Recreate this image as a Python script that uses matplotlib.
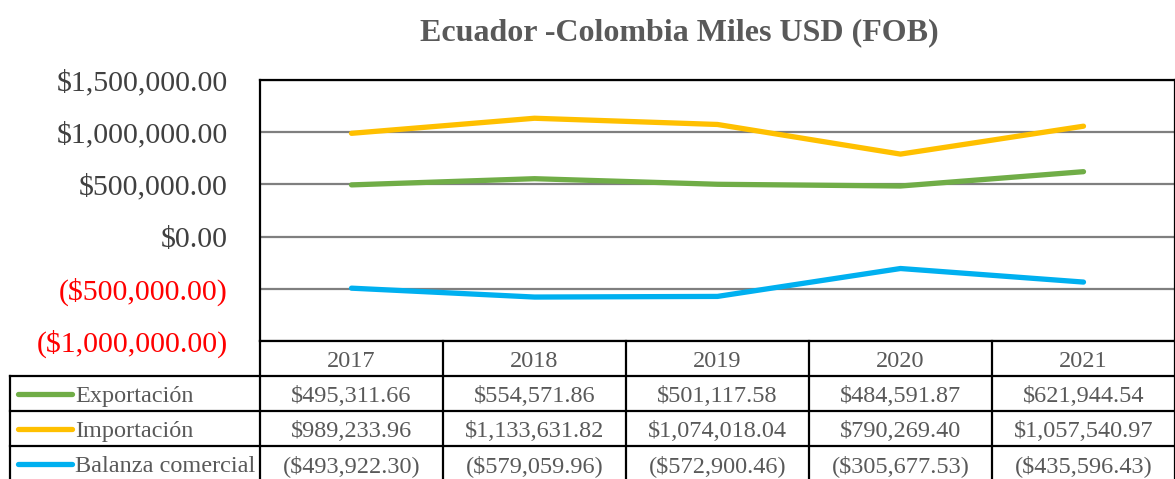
import numpy as np
import matplotlib.pyplot as plt
from matplotlib.ticker import FuncFormatter

years = ['2017', '2018', '2019', '2020', '2021']
exportacion = [495311.66, 554571.86, 501117.58, 484591.87, 621944.54]
importacion = [989233.96, 1133631.82, 1074018.04, 790269.40, 1057540.97]
balanza = [-493922.30, -579059.96, -572900.46, -305677.53, -435596.43]
series_names = ['Exportación', 'Importación', 'Balanza comercial']
colors = ['#70AD47', '#FFC000', '#00B0F0']


def money(v):
    if v < 0:
        return '(${:,.2f})'.format(-v)
    return '${:,.2f}'.format(v)


plt.rcParams['font.family'] = 'Liberation Serif'

W, H = 1175, 479
fig = plt.figure(figsize=(W / 100, H / 100), dpi=100)


def px(x0, y0, x1, y1):
    # pixel box -> figure fraction
    return [x0 / W, 1 - y1 / H, (x1 - x0) / W, (y1 - y0) / H]


# chart
ax = fig.add_axes(px(260, 80, 1175, 341))
x = np.arange(len(years))
all_series = [exportacion, importacion, balanza]
for vals, c in zip(all_series, colors):
    ax.plot(x, vals, color=c, lw=3.8, solid_capstyle='round', zorder=3)
ax.set_xlim(-0.5, len(years) - 0.5)
ax.set_ylim(-1000000, 1500000)
ax.set_yticks(np.arange(-1000000, 1500001, 500000))
ax.yaxis.set_major_formatter(FuncFormatter(lambda v, p: money(v)))
ax.set_xticks([])
ax.tick_params(axis='y', length=0, labelsize=21.5, pad=23, labelcolor='#404040')
for lab, v in zip(ax.get_yticklabels(), ax.get_yticks()):
    if v < 0:
        lab.set_color('red')
ax.grid(axis='y', color='#7f7f7f', lw=1.6, zorder=1)
ax.set_axisbelow(True)
for s in ['left', 'top', 'right']:
    ax.spines[s].set_color('black')
    ax.spines[s].set_linewidth(1.6)
ax.spines['bottom'].set_visible(False)

fig.text(679 / W, 1 - 33 / H, 'Ecuador -Colombia Miles USD (FOB)', ha='center',
         va='center', fontsize=23, fontweight='bold', color='#595959')

# data table
colw = 183.0
tab = fig.add_axes(px(10, 341, 1175, 481))
left = -0.5 - 250 / colw
tab.set_xlim(left, len(years) - 0.5)
tab.set_ylim(4, 0)
tab.axis('off')
lk = dict(color='black', lw=1.6, clip_on=False)
tab.plot([-0.5, len(years) - 0.5], [0, 0], **lk)
for r in range(1, 5):
    tab.plot([left, len(years) - 0.5], [r, r], **lk)
tab.plot([left, left], [1, 4], **lk)
for i in range(len(years) + 1):
    tab.plot([i - 0.5, i - 0.5], [0, 4], **lk)

tc = '#595959'
dy = 0.08
for i, yr in enumerate(years):
    tab.text(i, 0.5 + dy, yr, ha='center', va='center', fontsize=17.5, color=tc)
for r, (name, vals, c) in enumerate(zip(series_names, all_series, colors)):
    yy = r + 1.5
    tab.plot([left + 8 / colw, left + 62 / colw], [yy, yy], color=c, lw=3.8,
             solid_capstyle='round')
    tab.text(left + 65 / colw, yy + dy, name, ha='left', va='center', fontsize=17.5, color=tc)
    for i, v in enumerate(vals):
        tab.text(i, yy + dy, money(v), ha='center', va='center', fontsize=17.5, color=tc)

fig.savefig('out.png', dpi=100)
